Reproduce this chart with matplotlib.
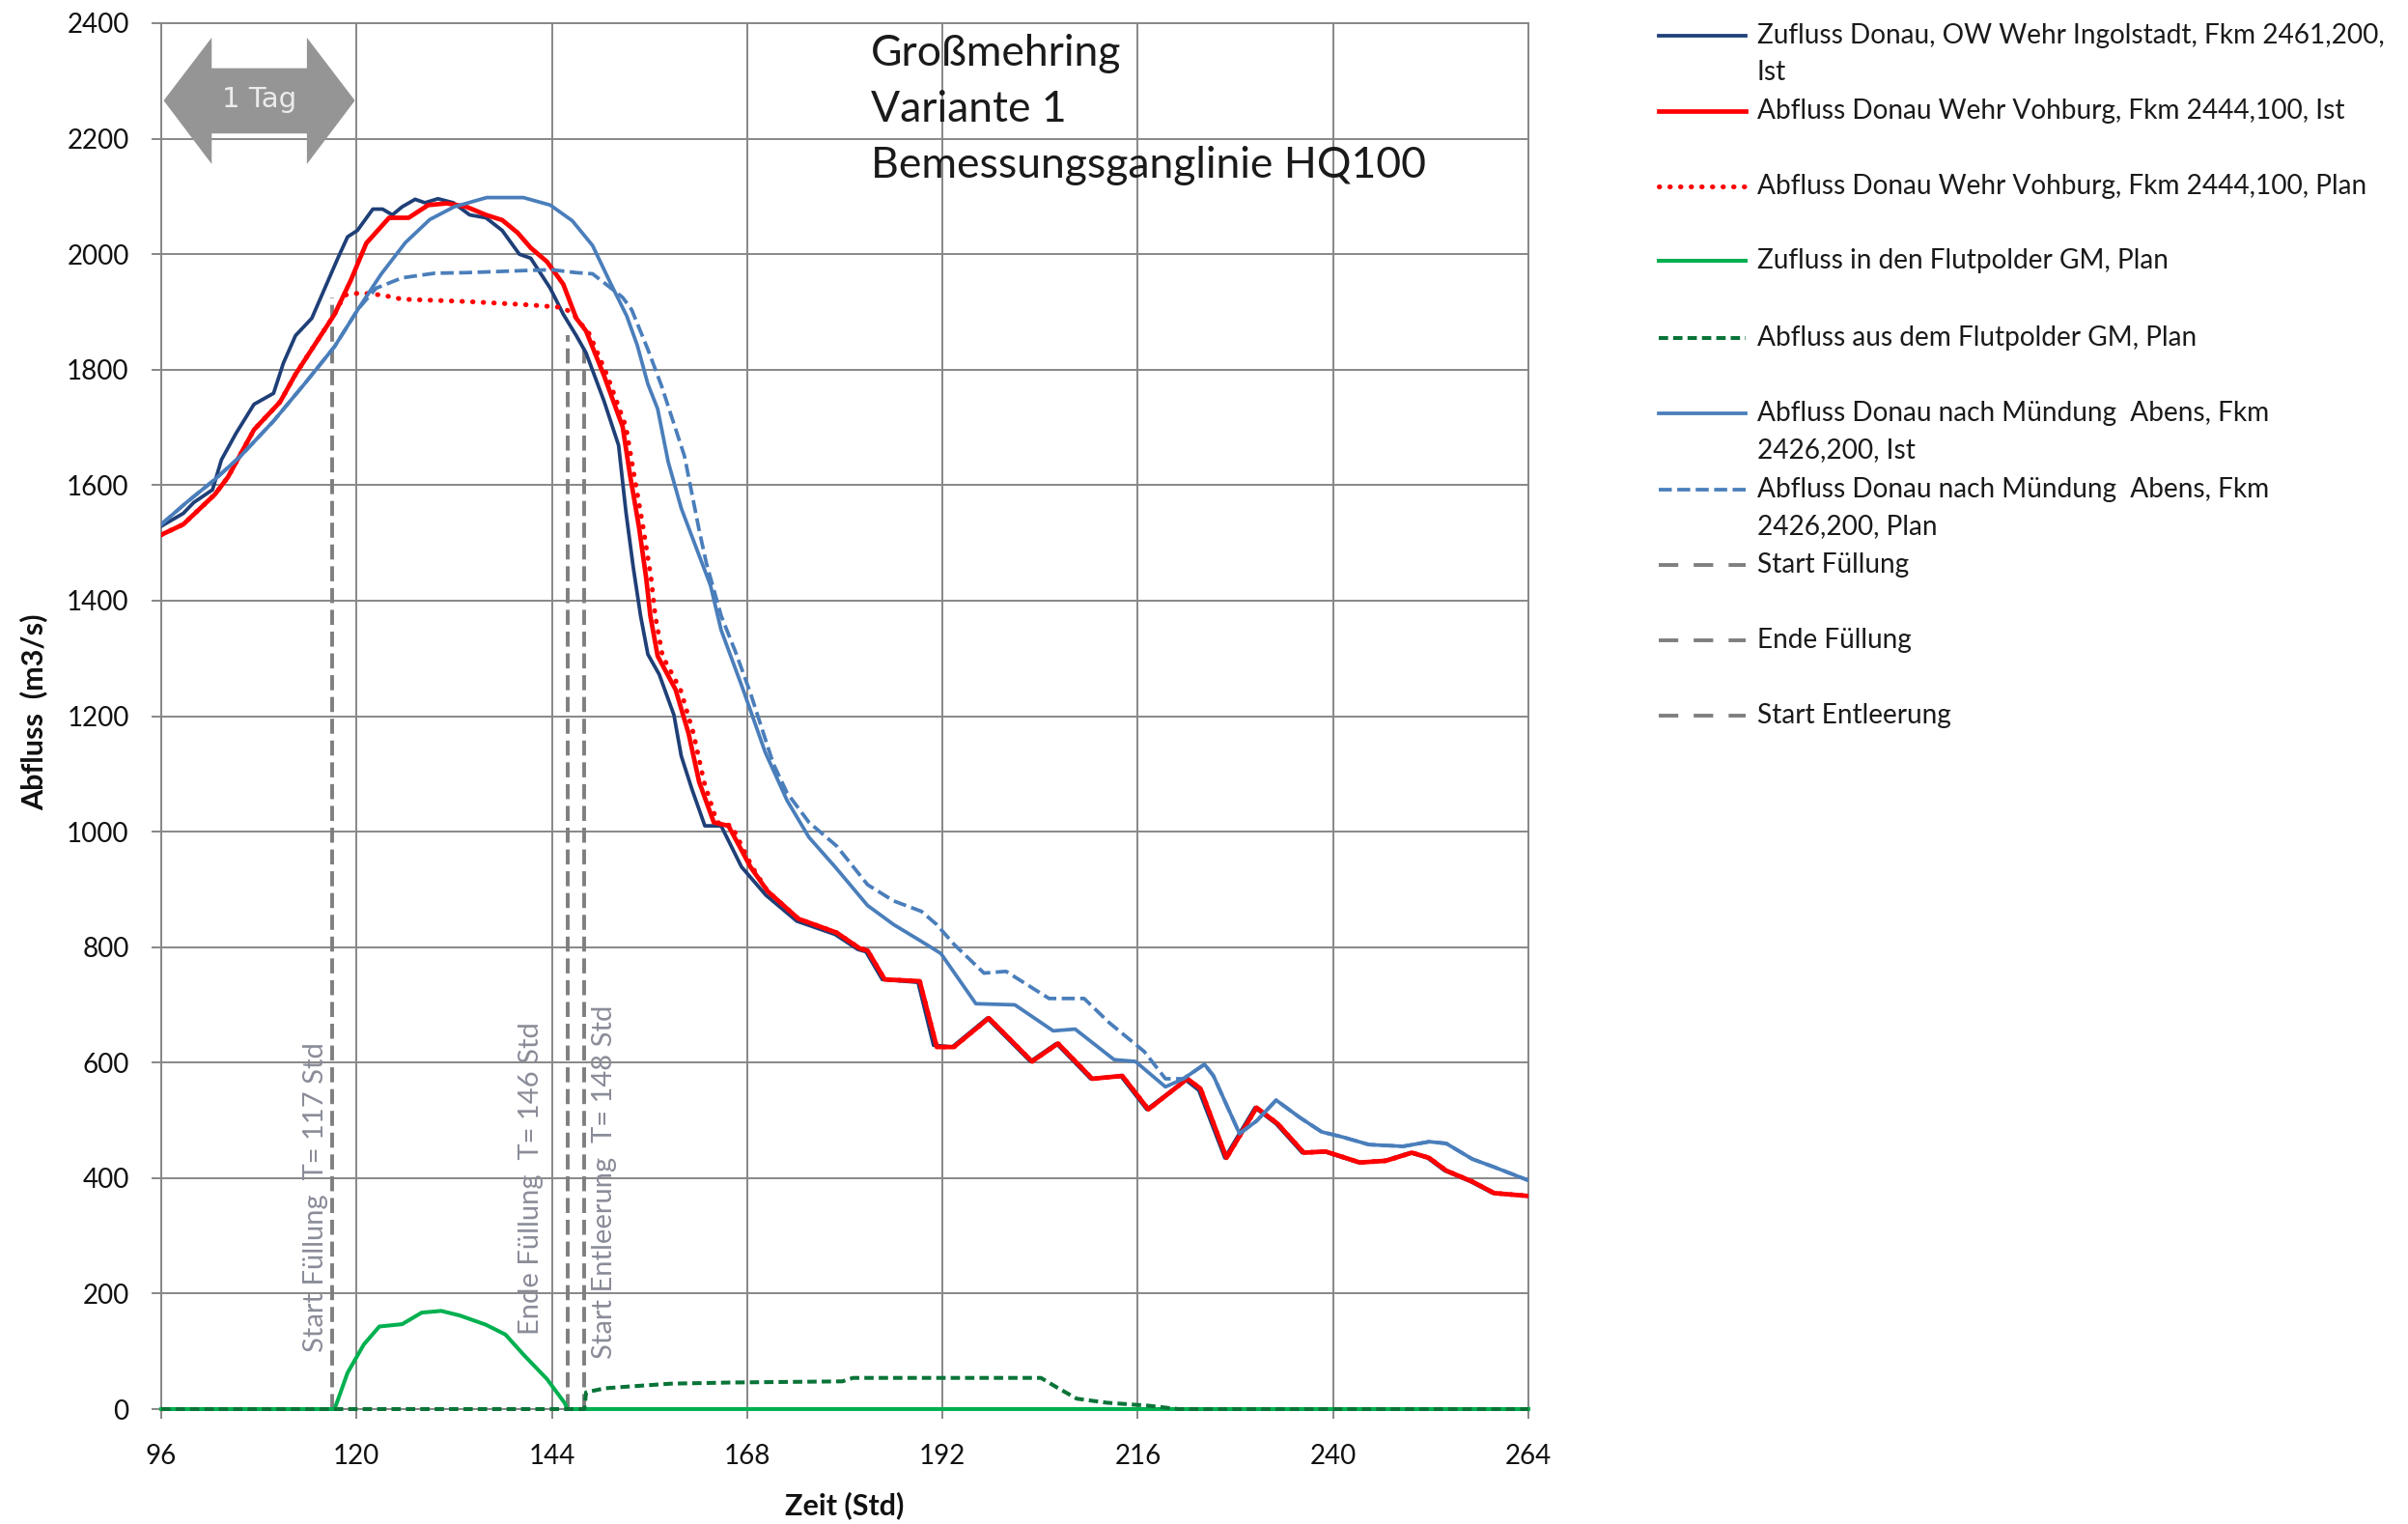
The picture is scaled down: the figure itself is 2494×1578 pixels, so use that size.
import matplotlib
matplotlib.use('Agg')
import matplotlib.pyplot as plt
from matplotlib.lines import Line2D
from matplotlib.patches import Polygon

plt.rcParams['font.family'] = ['Lato', 'DejaVu Sans']

# Zeit (Std) und Abfluss (m3/s)
ingolstadt_t = [96, 98.7, 100, 102.3, 103.4, 105.2, 107.4, 109.8, 111, 112.5, 114.5, 116.1, 117.7, 118.9, 120.1,
                122, 123.2, 124.4, 125.6, 127.2, 128.4, 130, 131.9, 133.9, 135.9, 137.9, 140, 141.4, 143.8, 145.4,
                147, 148.2, 150.4, 152.2, 153.1, 154, 154.9, 155.8, 157.2, 159, 159.9, 161.2, 162.8, 164.8, 167.3,
                170.3, 174.1, 178.8, 181.6, 182.6, 184.6, 189, 190.9, 193.2, 197.5, 202.8, 206, 210.2, 213.9, 217.1,
                221.9, 223.5, 226.7, 230.4, 233, 236.2, 238.9, 243.1, 246.3, 249.5, 251.6, 253.7, 256.9, 259.6, 264]
ingolstadt_q = [1529, 1551, 1570, 1592, 1644, 1690, 1740, 1759, 1811, 1859, 1889, 1941, 1993, 2030, 2041,
                2078, 2078, 2068, 2082, 2095, 2089, 2096, 2089, 2068, 2063, 2041, 2000, 1993, 1941, 1896,
                1859, 1829, 1746, 1669, 1554, 1458, 1374, 1307, 1272, 1202, 1131, 1074, 1010, 1010, 939,
                890, 845, 822, 796, 792, 744, 739, 630, 627, 677, 602, 633, 572, 577, 519,
                570, 552, 435, 522, 494, 444, 446, 427, 430, 444, 435, 413, 394, 374, 369]

vohburg_ist_t = [96, 98.7, 102.6, 104.2, 107.4, 110.6, 112.5, 114.9, 117.3, 119.3, 121.2, 124, 126.4, 128.8, 131.1,
                 133.5, 135.9, 137.9, 139.8, 141.4, 143.4, 145.4, 147, 148.2, 150.4, 152.7, 153.6, 154.7, 155.6,
                 156.1, 157, 159.2, 160.8, 162.1, 163.9, 165.7, 168.4, 170.5, 174.3, 179, 181.8, 182.8, 184.9,
                 189.2, 191.3, 193.4, 197.7, 203, 206.2, 210.4, 214.1, 217.3, 222.1, 223.7, 226.9, 230.6, 233.2,
                 236.4, 239.1, 243.3, 246.5, 249.7, 251.8, 253.9, 257.1, 259.8, 264]
vohburg_ist_q = [1514, 1532, 1584, 1614, 1696, 1744, 1792, 1844, 1896, 1955, 2019, 2063, 2063, 2085, 2088,
                 2082, 2068, 2059, 2037, 2011, 1987, 1948, 1889, 1867, 1790, 1701, 1618, 1528, 1438,
                 1374, 1304, 1246, 1170, 1086, 1016, 1010, 939, 897, 849, 825, 798, 794, 744,
                 741, 627, 627, 677, 602, 633, 572, 577, 519, 572, 555, 435, 522, 494,
                 444, 446, 427, 430, 444, 435, 413, 394, 374, 369]

vohburg_plan_t = [96, 98.7, 102.6, 104.2, 107.4, 110.6, 112.5, 114.9, 117.3, 118.5, 120.5, 123.2, 125.6, 129.6,
                  133.5, 137.5, 141.4, 145, 146.4, 148.6, 150.8, 153.1, 154.1, 155.2, 156.2, 156.7, 157.6, 159.8,
                  161.4, 162.7, 164.3, 166.1, 168.6, 170.5, 174.3, 179, 181.8, 182.8, 184.9, 189.2, 191.3, 193.4,
                  197.7, 203, 206.2, 210.4, 214.1, 217.3, 222.1, 223.7, 226.9, 230.6, 233.2, 236.4, 239.1, 243.3,
                  246.5, 249.7, 251.8, 253.9, 257.1, 259.8, 264]
vohburg_plan_q = [1514, 1532, 1584, 1614, 1696, 1744, 1792, 1844, 1896, 1929, 1933, 1929, 1922, 1920,
                  1918, 1915, 1912, 1908, 1900, 1862, 1790, 1701, 1618, 1528, 1438, 1374, 1304, 1246,
                  1170, 1086, 1016, 1010, 939, 897, 849, 825, 798, 794, 744, 741, 627, 627,
                  677, 602, 633, 572, 577, 519, 572, 555, 435, 522, 494, 444, 446, 427,
                  430, 444, 435, 413, 394, 374, 369]

polder_zu_t = [96, 117.3, 118.9, 120.9, 122.8, 125.6, 128, 130.4, 132.7, 135.9, 138.3, 140.6, 143.4, 145.6, 145.9, 264]
polder_zu_q = [0, 0, 63, 112, 143, 147, 167, 170, 162, 146, 129, 93, 52, 10, 0, 0]

polder_ab_t = [96, 148, 148.2, 150.5, 153.4, 158.6, 166, 179.7, 181, 204.1, 206, 208.5, 212.2, 217.2, 221, 264]
polder_ab_q = [0, 0, 29, 36, 39, 44, 46, 48, 54, 54, 38, 18, 11, 6, 0, 0]

abens_ist_t = [96, 99.1, 102.6, 105.8, 109.8, 113.7, 117.3, 120.2, 123, 126, 129, 132, 136, 140.5, 143.8,
               146.5, 149, 151.2, 153.2, 154.5, 155.8, 157, 158.3, 159.9, 163.5, 164.8, 167.5, 170.2, 172.9,
               175.6, 178.8, 182.8, 186, 189.4, 191.8, 196.1, 200.9, 205.6, 208.3, 213.1, 215.7, 219.4, 221.6,
               224.2, 225.3, 228.5, 230.6, 233, 235.9, 238.6, 241.2, 244.4, 248.6, 251.8, 253.9, 257.1, 259.8, 264]
abens_ist_q = [1532, 1570, 1610, 1651, 1711, 1777, 1840, 1905, 1965, 2020, 2060, 2082, 2098, 2098, 2085,
               2058, 2015, 1950, 1893, 1842, 1775, 1732, 1640, 1560, 1426, 1349, 1246, 1138, 1054,
               990, 939, 872, 839, 810, 789, 702, 700, 655, 658, 605, 602, 558, 572,
               597, 577, 477, 499, 535, 505, 480, 471, 458, 455, 463, 460, 433, 419, 396]

abens_plan_t = [96, 99.1, 102.6, 105.8, 109.8, 113.7, 117.3, 120.2, 122.4, 125.6, 129.6, 133.5, 137.5, 141.4,
                144, 147, 149, 151.1, 152.7, 153.8, 155.8, 157.5, 160.3, 162.1, 163, 164.8, 166.6, 168.4, 171.2,
                172.9, 175.6, 179, 182.8, 186, 189.4, 191.3, 193.4, 197.1, 199.8, 205.1, 209.4, 212.5, 216.8,
                219.4, 221.6, 224.2, 225.3, 228.5, 230.6, 233, 235.9, 238.6, 241.2, 244.4, 248.6, 251.8, 253.9,
                257.1, 259.8, 264]
abens_plan_q = [1532, 1570, 1610, 1651, 1711, 1777, 1840, 1905, 1941, 1959, 1967, 1968, 1970, 1972,
                1973, 1968, 1966, 1943, 1925, 1904, 1835, 1771, 1650, 1522, 1464, 1374, 1310, 1240, 1118,
                1067, 1016, 975, 908, 880, 862, 839, 805, 755, 758, 711, 711, 669, 619,
                572, 572, 597, 577, 477, 499, 535, 505, 480, 471, 458, 455, 463, 460,
                433, 419, 396]

# Zeitpunkte der Steuerung (Std) und Hoehe der senkrechten Linien
event_t = [117, 146, 148]
event_top = [1925, 1860, 1845]
event_text = ['Start Füllung  T= 117 Std', 'Ende Füllung  T= 146 Std', 'Start Entleerung  T= 148 Std']

legend_labels = [
    ['Zufluss Donau, OW Wehr Ingolstadt, Fkm 2461,200,', 'Ist'],
    ['Abfluss Donau Wehr Vohburg, Fkm 2444,100, Ist'],
    ['Abfluss Donau Wehr Vohburg, Fkm 2444,100, Plan'],
    ['Zufluss in den Flutpolder GM, Plan'],
    ['Abfluss aus dem Flutpolder GM, Plan'],
    ['Abfluss Donau nach Mündung  Abens, Fkm', '2426,200, Ist'],
    ['Abfluss Donau nach Mündung  Abens, Fkm', '2426,200, Plan'],
    ['Start Füllung'],
    ['Ende Füllung'],
    ['Start Entleerung'],
]

NAVY = '#1f3f77'
RED = '#ff0000'
GREEN = '#00b050'
DGREEN = '#0a7438'
BLUE = '#4a7ebb'
GRAY = '#7f7f7f'
GRID = '#878787'

styles = [
    dict(color=NAVY, lw=2.7, ls='-'),
    dict(color=RED, lw=3.4, ls='-'),
    dict(color=RED, lw=3.6, ls=(0, (0.1, 2.1)), dash_capstyle='round'),
    dict(color=GREEN, lw=2.9, ls='-'),
    dict(color=DGREEN, lw=2.9, ls=(0, (2.4, 1.3))),
    dict(color=BLUE, lw=2.7, ls='-'),
    dict(color=BLUE, lw=2.7, ls=(0, (3.6, 1.5))),
    dict(color=GRAY, lw=2.8, ls=(0, (4.0, 1.8))),
    dict(color=GRAY, lw=2.8, ls=(0, (4.0, 1.8))),
    dict(color=GRAY, lw=2.8, ls=(0, (4.0, 1.8))),
]
# in der Legende sind die grauen Striche laenger
legend_styles = styles[:7] + [dict(color=GRAY, lw=2.8, ls=(0, (5.2, 4.1)))] * 3

W, H = 2494, 1578
fig = plt.figure(figsize=(W / 100, H / 100), dpi=100)
ax = fig.add_axes([167 / W, 1 - 1459 / H, (1583 - 167) / W, (1459 - 24) / H])

ax.plot(ingolstadt_t, ingolstadt_q, zorder=3, **styles[0])
ax.plot(vohburg_ist_t, vohburg_ist_q, zorder=4, **styles[1])
ax.plot(vohburg_plan_t, vohburg_plan_q, zorder=5, **styles[2])
# Polderlinien liegen auf der Nulllinie -> nicht abschneiden
ax.plot(polder_zu_t, polder_zu_q, zorder=5, clip_on=False, **styles[3])
ax.plot(polder_ab_t, polder_ab_q, zorder=6, clip_on=False, **styles[4])
ax.plot(abens_ist_t, abens_ist_q, zorder=6, **styles[5])
ax.plot(abens_plan_t, abens_plan_q, zorder=7, **styles[6])

# senkrechte Linien + Beschriftung
for i, (t, top) in enumerate(zip(event_t, event_top)):
    ax.plot([t, t], [0, top], zorder=2, **styles[7 + i])
label_x = [115.0, 141.4, 150.4]
label_y = [98, 129, 87]
for lx, ly, txt in zip(label_x, label_y, event_text):
    ax.text(lx, ly, txt, rotation=90, ha='center', va='bottom', fontsize=21, color='#8a8c98', zorder=8)

# Pfeil "1 Tag"
arrow = [(96.3, 2266), (102.2, 2375), (102.2, 2322), (113.9, 2322), (113.9, 2375),
         (119.8, 2266), (113.9, 2156), (113.9, 2209), (102.2, 2209), (102.2, 2156)]
ax.add_patch(Polygon(arrow, closed=True, facecolor='#959595', edgecolor='none', zorder=9))
ax.text(108.0, 2268, '1 Tag', ha='center', va='center', fontsize=21, color='#ececec', zorder=10,
        family=['Liberation Sans Narrow', 'DejaVu Sans'])

ax.set_xlim(96, 264)
ax.set_ylim(0, 2400)
ax.set_xticks(range(96, 265, 24))
ax.set_yticks(range(0, 2401, 200))
ax.grid(True, color=GRID, lw=1.4, zorder=0)
for s in ax.spines.values():
    s.set_color(GRID)
    s.set_linewidth(1.4)
ax.tick_params(axis='both', direction='out', length=7, width=1.4, color=GRID, labelsize=20,
               labelcolor='#111111')
ax.tick_params(axis='y', pad=17)
ax.tick_params(axis='x', pad=19)
ax.set_axisbelow(True)

fig.text(35 / W, 1 - 737 / H, 'Abfluss  (m3/s)', rotation=90, ha='center', va='center',
         fontsize=22, fontweight='bold', color='#111111')
fig.text(875 / W, 1 - 1559 / H, 'Zeit (Std)', ha='center', va='center',
         fontsize=22, fontweight='bold', color='#111111')

# Titelblock
for j, line in enumerate(['Großmehring', 'Variante 1', 'Bemessungsganglinie HQ100']):
    fig.text(902 / W, 1 - (56 + j * 58) / H, line, ha='left', va='center', fontsize=32, color='#1a1a1a')

# Legende rechts (von Hand gezeichnet)
row_y = [36.6, 114.5, 192.5, 270.4, 349.9, 427.9, 507.4, 585.3, 663.3, 741.2]
for y_px, lab, st in zip(row_y, legend_labels, legend_styles):
    y = 1 - y_px / H
    fig.add_artist(Line2D([1718 / W, 1808 / W], [y, y], transform=fig.transFigure, **st))
    for k, txt in enumerate(lab):
        fig.text(1820 / W, 1 - (y_px + k * 38) / H, txt, ha='left', va='center', fontsize=20.2,
                 color='#1a1a1a')

fig.savefig('out.png', dpi=100)
